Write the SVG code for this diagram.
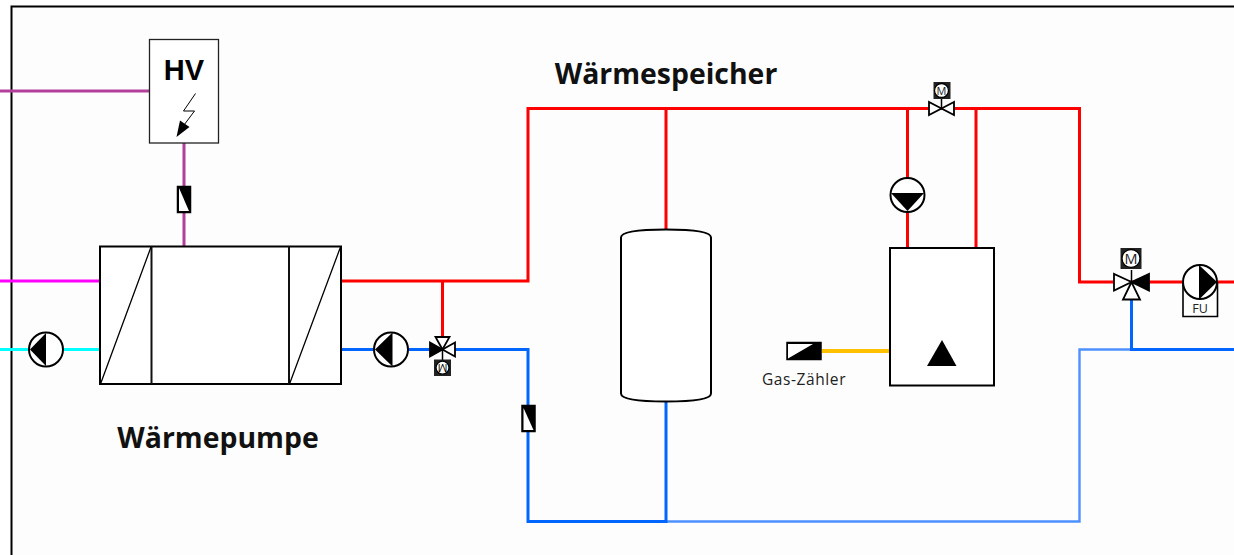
<svg xmlns="http://www.w3.org/2000/svg" width="1234" height="555" viewBox="0 0 1234 555">
<style>
.p{fill:none;stroke-width:3;stroke-linejoin:miter}
.b{fill:#fff;stroke:#000;stroke-width:2}
.t{fill:#fff;stroke:#000;stroke-width:1.800;stroke-linejoin:miter}
.k{fill:#000;stroke:#000;stroke-width:1.800}
.l{font-family:"Open Sans","Noto Sans","Liberation Sans",sans-serif;font-weight:700;font-size:28.400px;fill:#111}
.s{font-family:"Open Sans","Noto Sans","Liberation Sans",sans-serif;fill:#222}
.w{stroke-width:4}
.n{stroke-width:2.400}
</style>
<rect width="1234" height="555" fill="#fff"/>
<rect x="11.500" y="6.500" width="1223" height="549" fill="#fdfdfd"/>
<path d="M1234 6.500H11.500V555" fill="none" stroke="#000" stroke-width="2"/>
<g id="connectors">
<path class="p" stroke="#b2409a" d="M0 91H150M184 143V246"/>
<path class="p" stroke="#ff00ff" d="M0 281H100"/>
<path class="p" stroke="#00ffff" d="M0 349.500H100"/>
<path class="p" stroke="#ff0000" d="M341 281H528V108.500H1079.500V282H1234M442.500 281V337M666 108.500V230M907.500 108.500V248M976 108.500V248"/>
<path class="p n" stroke="#4d90ff" d="M666 521.500H1079.500V349.500H1131.500"/>
<path class="p" stroke="#0066ff" d="M341 349.500H528V521.500H666V401M1131.500 295V349.500H1234"/>
<path class="p w" stroke="#ffc000" d="M822 351H890"/>
</g>
<g id="hv">
<rect x="149.500" y="39.500" width="69" height="103.500" fill="#fff" stroke="#222" stroke-width="1.300"/>
<text x="184" y="80" text-anchor="middle" font-family="'Liberation Sans',Arial,sans-serif" font-weight="700" font-size="29" fill="#000">HV</text>
<path d="M195.500 93.500L183.500 111H194.500L184 125" fill="none" stroke="#000" stroke-width="1"/>
<path d="M176.500 137L180 120.500L189.500 127Z" fill="#000"/>
</g>
<g id="check-hv">
<rect x="177.500" y="186.500" width="13" height="26" fill="#000" stroke="#000" stroke-width="1.500"/>
<path d="M179 188V211H189Z" fill="#fff"/>
</g>
<g id="waermepumpe">
<rect x="100" y="246.500" width="241" height="137.500" fill="#fff" stroke="#000" stroke-width="2"/>
<path d="M151.500 246.500V384M289 246.500V384" fill="none" stroke="#111" stroke-width="2"/>
<path d="M100.500 384L151 247M289.500 384L340.500 247" fill="none" stroke="#000" stroke-width="1.300"/>
<text class="l" x="218" y="448" text-anchor="middle">Wärmepumpe</text>
</g>
<g id="pump-cold">
<circle class="b" cx="46" cy="349.500" r="17"/>
<path d="M30 349.500L46 333V366Z" fill="#000"/>
</g>
<g id="pump-return">
<circle class="b" cx="391" cy="349.500" r="17"/>
<path d="M375 349.500L392.500 332.500V366.500Z" fill="#000"/>
</g>
<g id="valve-left">
<path class="t" d="M442.500 349.500L435.500 337H449.500Z"/>
<path class="t" d="M442.500 349.500L455 342.500V356.500Z"/>
<path class="k" d="M442.500 349.500L430 342.500V356.500Z"/>
<path d="M442.500 349.500V360" stroke="#000" stroke-width="1.500"/>
<rect x="434" y="359.500" width="17" height="16.500" fill="#222"/>
<circle cx="442.500" cy="367.700" r="6.500" fill="#fff" stroke="#000" stroke-width="1.300"/>
<text x="442.500" y="371.700" text-anchor="middle" font-size="11" font-family="'Open Sans',sans-serif" fill="#000" transform="rotate(180 442.500 367.700)">M</text>
</g>
<g id="check-return">
<rect x="522" y="405.500" width="13" height="26" fill="#000" stroke="#000" stroke-width="1.500"/>
<path d="M523.500 408V430H533.500Z" fill="#fff"/>
</g>
<g id="speicher">
<path d="M621 237.500Q621 229.500 666 229.500T711 237.500V393.500Q711 401.500 666 401.500T621 393.500Z" fill="#fff" stroke="#000" stroke-width="2"/>
<text class="l" x="666" y="84" text-anchor="middle">Wärmespeicher</text>
</g>
<g id="valve-top">
<path class="t" d="M941.500 108.500L929 102V115Z"/>
<path class="t" d="M941.500 108.500L954 102V115Z"/>
<path d="M941.500 108.500V98" stroke="#000" stroke-width="1.500"/>
<rect x="933.500" y="82" width="17" height="17" fill="#222"/>
<circle cx="941.500" cy="90.500" r="7" fill="#fff" stroke="#000" stroke-width="1.300"/>
<text class="s" x="941.500" y="94.500" text-anchor="middle" font-size="11">M</text>
</g>
<g id="pump-boiler">
<circle class="b" cx="907.500" cy="195" r="17"/>
<path d="M891 193H924L907.500 211Z" fill="#000"/>
</g>
<g id="kessel">
<rect x="890" y="248" width="104" height="137.500" fill="#fff" stroke="#000" stroke-width="2"/>
<path d="M927 366L942 340L956.500 366Z" fill="#000"/>
</g>
<g id="gas-zaehler">
<rect x="787" y="342.500" width="34" height="17" fill="#000" stroke="#000" stroke-width="1.500"/>
<path d="M788 358.500V344H813Z" fill="#fff"/>
<text class="s" x="804" y="385" text-anchor="middle" font-size="15.500" letter-spacing="0.600">Gas-Zähler</text>
</g>
<g id="valve-right">
<path class="t" d="M1131.500 282L1114 274V290.500Z"/>
<path class="t" d="M1131.500 282L1123 299.500H1140Z"/>
<path class="k" d="M1131.500 282L1149 274V290.500Z"/>
<path d="M1131.500 282V270" stroke="#000" stroke-width="1.500"/>
<rect x="1120.500" y="248" width="21" height="21" fill="#222"/>
<circle cx="1131" cy="258.500" r="9" fill="#fff" stroke="#000" stroke-width="1.300"/>
<text class="s" x="1131" y="264" text-anchor="middle" font-size="14.500">M</text>
</g>
<g id="pump-fu">
<path d="M1183 282V316.500H1217.500V282" fill="#fff" stroke="#000" stroke-width="1.600"/>
<circle class="b" cx="1200" cy="282" r="17"/>
<path d="M1199 265L1217 282L1199 299.500Z" fill="#000"/>
<text class="s" x="1200" y="313" text-anchor="middle" font-size="12.500">FU</text>
</g>
</svg>
